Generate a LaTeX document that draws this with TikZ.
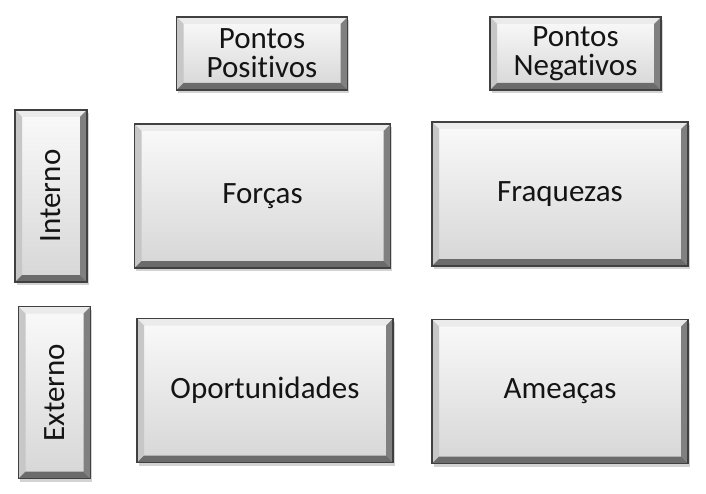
\documentclass[tikz,border=0pt]{standalone}
\usepackage{graphicx}
\usepackage{fontspec}
\setmainfont{Carlito}[RawFeature={-liga;-clig;-dlig;-calt}]
\usetikzlibrary{calc,shadows}
\definecolor{swedge}{RGB}{64,64,64}
\definecolor{swface}{RGB}{214,214,214}
\definecolor{swtop}{RGB}{250,250,250}
\definecolor{swtext}{RGB}{20,20,20}
\newcommand{\bev}{7pt}
\tikzset{
  bevelbox/.style={draw=swedge, line width=1.3pt, top color=swtop, bottom color=swface,
    inner sep=0pt, align=center, text=swtext, font=\fontsize{31}{32}\selectfont,
    drop shadow={shadow xshift=1.5pt, shadow yshift=-3pt, opacity=0.35},
    path picture={
      \fill[white!92!black] (path picture bounding box.north west) -- (path picture bounding box.north east)
        -- ($(path picture bounding box.north east)+(-\bev,-\bev)$) -- ($(path picture bounding box.north west)+(\bev,-\bev)$) -- cycle;
      \fill[black!22] (path picture bounding box.north west) -- (path picture bounding box.south west)
        -- ($(path picture bounding box.south west)+(\bev,\bev)$) -- ($(path picture bounding box.north west)+(\bev,-\bev)$) -- cycle;
      \fill[black!50] (path picture bounding box.north east) -- (path picture bounding box.south east)
        -- ($(path picture bounding box.south east)+(-\bev,\bev)$) -- ($(path picture bounding box.north east)+(-\bev,-\bev)$) -- cycle;
      \fill[black!58] (path picture bounding box.south west) -- (path picture bounding box.south east)
        -- ($(path picture bounding box.south east)+(-\bev,\bev)$) -- ($(path picture bounding box.south west)+(\bev,\bev)$) -- cycle;
    }},
  headbox/.style={bevelbox, minimum width=171pt, minimum height=73pt},
  cellbox/.style={bevelbox, minimum width=256pt, minimum height=144pt},
  sidebox/.style={bevelbox, minimum width=72pt, minimum height=172pt}
}
\begin{document}
\begin{tikzpicture}[x=1pt,y=-1pt]
    \useasboundingbox (0,0) rectangle (706,494);
    % column headings
    \node[headbox] (pos) at (262,53.5) {Pontos\\[-3pt]Positivos};
    \node[headbox] (neg) at (575.5,53.5) {Pontos\\[-3pt]Negativos};
    % row headings
    \node[sidebox] (int) at (51,196) {\rotatebox{90}{Interno}};
    \node[sidebox] (ext) at (54.5,392.5) {\rotatebox{90}{Externo}};
    % quadrants
    \node[cellbox] (forcas) at (262.5,196) {Forças};
    \node[cellbox] (fraq) at (560,194) {Fraquezas};
    \node[cellbox] (oport) at (265,390.5) {Oportunidades};
    \node[cellbox] (ameac) at (560,391.5) {Ameaças};
  \end{tikzpicture}
\end{document}
